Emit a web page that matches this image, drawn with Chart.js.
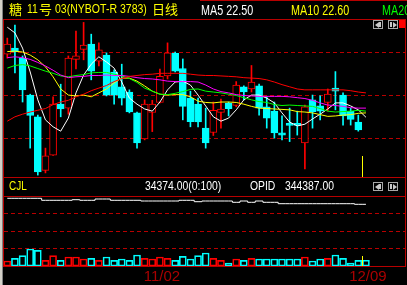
<!DOCTYPE html>
<html>
<head>
<meta charset="utf-8">
<script src="https://cdn.jsdelivr.net/npm/chart.js@4.4.1/dist/chart.umd.min.js"></script>
<style>
  html, body { margin: 0; padding: 0; background: #000; }
  body { width: 407px; height: 285px; position: relative; overflow: hidden; font-family: "Liberation Sans", Arial, sans-serif; }
  canvas { position: absolute; left: 0; }
  .ln { position: absolute; background: #b80000; }
  .txt { position: absolute; white-space: nowrap; line-height: 1; transform-origin: 0 0; }
  .cjk { font-family: "Noto Sans CJK SC", sans-serif; font-size: 13px; color: #ffff00; }
  .btn { position: absolute; width: 10px; height: 9px; border: 1px solid #a8a8a8; box-sizing: border-box; }
  .btn i { position: absolute; top: 1px; width: 0; height: 0; border-top: 3px solid transparent; border-bottom: 3px solid transparent; }
  .btn b { position: absolute; top: 1px; width: 2px; height: 5px; background: #c8c8c8; }
</style>
</head>
<body>
<canvas id="kline" width="407" height="178" style="top:0"></canvas>
<canvas id="vol" width="407" height="89" style="top:196px"></canvas>

<!-- frame -->
<div class="ln" style="left:0;top:0;width:2px;height:285px;background:#d4d0c8"></div>
<div class="ln" style="left:2px;top:0;width:1px;height:285px;background:#808080"></div>
<div class="ln" style="left:200px;top:0;width:207px;height:1px"></div>
<div class="ln" style="left:3px;top:19px;width:403px;height:1px"></div>
<div class="ln" style="left:3px;top:177px;width:403px;height:1px"></div>
<div class="ln" style="left:3px;top:196px;width:403px;height:1px"></div>
<div class="ln" style="left:3px;top:266px;width:403px;height:1px"></div>
<div class="ln" style="left:3px;top:19px;width:1px;height:248px"></div>
<div class="ln" style="left:405px;top:19px;width:1px;height:248px"></div>
<div class="ln" style="left:399px;top:20px;width:6px;height:8px;background:#ff0000"></div>

<!-- cursor -->
<div class="ln" style="left:362px;top:156px;width:1px;height:21px;background:#ffff00"></div>
<div class="ln" style="left:362px;top:256px;width:1px;height:10px;background:#ffff00"></div>

<!-- title -->
<div class="txt cjk" style="left:9px;top:2px">糖</div>
<div class="txt" style="left:27px;top:2px;font-size:13px;color:#ffff00;transform:scaleX(0.8)">11</div>
<div class="txt cjk" style="left:39px;top:2px">号</div>
<div class="txt" style="left:55px;top:2px;font-size:13px;color:#ffff00;transform:scaleX(0.81)">03(NYBOT-R 3783)</div>
<div class="txt cjk" style="left:152px;top:2px">日</div>
<div class="txt cjk" style="left:165px;top:2px">线</div>

<div class="txt" style="left:201px;top:3px;font-size:14px;color:#ffffff;transform:scaleX(0.77)">MA5 22.50</div>
<div class="txt" style="left:291px;top:3px;font-size:14px;color:#ffff00;transform:scaleX(0.77)">MA10 22.60</div>
<div class="txt" style="left:382px;top:3px;font-size:14px;color:#00ff00;transform:scaleX(0.77)">MA20 22.64</div>

<div class="txt" style="left:9px;top:180px;font-size:12.5px;color:#ffff00;transform:scaleX(0.8)">CJL</div>
<div class="txt" style="left:145px;top:180px;font-size:12.5px;color:#ffffff;transform:scaleX(0.83)">34374.00(0:100)</div>
<div class="txt" style="left:250px;top:180px;font-size:12.5px;color:#ffffff;transform:scaleX(0.83)">OPID</div>
<div class="txt" style="left:285px;top:180px;font-size:12.5px;color:#ffffff;transform:scaleX(0.83)">344387.00</div>

<!-- scroll buttons -->
<div class="btn" style="left:373px;top:20px"><i style="left:1px;border-right:4px solid #c8c8c8"></i><b style="left:5px"></b></div>
<div class="btn" style="left:388px;top:20px"><b style="left:1px"></b><i style="left:4px;border-left:4px solid #c8c8c8"></i></div>
<div class="btn" style="left:373px;top:182px"><i style="left:1px;border-right:4px solid #c8c8c8"></i><b style="left:5px"></b></div>
<div class="btn" style="left:388px;top:182px"><b style="left:1px"></b><i style="left:4px;border-left:4px solid #c8c8c8"></i></div>

<script>
const opens = [23.95, 24.09, 23.86, 23.01, 22.51, 21.28, 21.63, 22.80, 22.71, 23.83,
  24.06, 24.18, 23.79, 23.93, 23.54, 23.20, 23.08, 22.60, 22.00, 22.61,
  22.84, 23.45, 23.97, 23.62, 22.94, 22.80, 22.25, 22.15, 22.61, 22.82,
  22.77, 23.20, 23.15, 23.22, 22.74, 22.64, 22.14, 22.36, 22.36, 21.91,
  22.90, 22.76, 22.84, 23.17, 23.01, 22.64, 22.39];
const closes = [24.18, 24.00, 23.13, 22.54, 21.24, 21.61, 22.80, 22.69, 23.86, 23.91,
  24.16, 23.56, 24.05, 23.01, 23.01, 22.94, 22.62, 21.91, 22.80, 22.80,
  23.44, 23.98, 23.56, 22.75, 22.40, 22.39, 21.91, 22.66, 22.69, 22.70,
  23.24, 23.08, 23.31, 22.71, 22.48, 22.14, 22.09, 22.31, 22.31, 22.74,
  22.63, 22.64, 23.03, 23.10, 22.53, 22.45, 22.21];
const highs = [24.32, 24.62, 23.91, 23.03, 22.55, 21.79, 22.97, 23.26, 23.91, 24.48,
  24.68, 24.41, 24.21, 23.98, 23.59, 23.72, 23.13, 22.62, 22.90, 22.89,
  23.61, 24.21, 24.00, 23.84, 23.10, 22.94, 22.71, 22.85, 22.92, 22.85,
  23.32, 23.22, 23.69, 23.26, 22.97, 22.85, 22.53, 22.71, 22.64, 22.78,
  23.01, 22.99, 23.15, 23.55, 23.06, 22.71, 22.55];
const lows = [23.86, 23.52, 22.85, 21.79, 21.17, 21.22, 21.62, 22.51, 22.57, 23.61,
  23.82, 23.36, 23.68, 22.99, 22.80, 22.78, 22.60, 21.79, 21.98, 22.17,
  22.83, 23.38, 23.54, 22.44, 22.28, 22.28, 21.79, 22.08, 22.25, 22.53,
  22.74, 22.90, 23.08, 22.55, 22.25, 22.02, 21.98, 21.94, 22.09, 21.31,
  22.25, 22.44, 22.64, 22.67, 22.32, 22.32, 22.18];

const ma5 = [24.57, 24.44, 24.09, 23.54, 22.90, 22.44, 22.28, 22.18, 22.48, 23.06,
  23.47, 23.72, 23.89, 23.77, 23.63, 23.31, 22.94, 22.80, 22.69, 22.64,
  22.85, 23.13, 23.31, 23.33, 23.24, 23.01, 22.76, 22.51, 22.41, 22.48,
  22.67, 22.90, 23.01, 23.01, 22.94, 22.83, 22.60, 22.39, 22.30, 22.34,
  22.46, 22.57, 22.69, 22.83, 22.83, 22.76, 22.67, 22.50];
const ma10 = [24.01, 24.02, 24.00, 23.93, 23.82, 23.66, 23.43, 23.15, 23.01, 22.99,
  23.01, 22.97, 23.06, 23.15, 23.29, 23.40, 23.40, 23.33, 23.22, 23.10,
  23.03, 23.01, 23.02, 23.02, 22.97, 22.87, 22.84, 22.83, 22.85, 22.85,
  22.84, 22.80, 22.75, 22.71, 22.70, 22.69, 22.68, 22.67, 22.63, 22.62,
  22.60, 22.56, 22.52, 22.53, 22.55, 22.56, 22.59, 22.60];
const ma20 = [23.63, 23.69, 23.71, 23.68, 23.62, 23.56, 23.51, 23.45, 23.43, 23.46,
  23.48, 23.52, 23.53, 23.53, 23.49, 23.45, 23.39, 23.30, 23.17, 23.10,
  23.03, 23.02, 23.05, 23.09, 23.14, 23.15, 23.10, 23.08, 23.06, 23.03,
  23.00, 22.95, 22.90, 22.86, 22.84, 22.79, 22.77, 22.78, 22.77, 22.76,
  22.75, 22.70, 22.64, 22.62, 22.63, 22.64, 22.66, 22.64];
const ma30 = [23.87, 23.89, 23.87, 23.83, 23.76, 23.68, 23.58, 23.47, 23.41, 23.43,
  23.44, 23.46, 23.46, 23.47, 23.46, 23.46, 23.44, 23.41, 23.39, 23.38,
  23.36, 23.33, 23.32, 23.32, 23.32, 23.31, 23.24, 23.15, 23.09, 23.06,
  23.02, 23.00, 22.99, 22.98, 22.98, 22.98, 22.98, 22.97, 22.95, 22.93,
  22.89, 22.83, 22.78, 22.77, 22.75, 22.72, 22.71, 22.71];
const ma60 = [22.41, 22.51, 22.57, 22.62, 22.66, 22.70, 22.79, 22.85, 22.89, 22.97,
  23.03, 23.11, 23.17, 23.23, 23.32, 23.39, 23.44, 23.46, 23.48, 23.49,
  23.51, 23.51, 23.51, 23.51, 23.49, 23.47, 23.46, 23.46, 23.45, 23.44,
  23.43, 23.41, 23.40, 23.39, 23.36, 23.31, 23.25, 23.20, 23.15, 23.13,
  23.13, 23.13, 23.13, 23.13, 23.13, 23.11, 23.08, 23.06];

const volumes = [30000, 46200, 61800, 102000, 94200, 34200, 61800, 34200, 54000, 54000,
  42000, 46200, 34200, 54000, 34200, 42000, 34200, 66000, 46200, 42000,
  54000, 46200, 34200, 58200, 42000, 61800, 78000, 46200, 34200, 18000,
  42000, 34200, 46200, 42000, 42000, 42000, 42000, 42000, 42000, 54000,
  30000, 42000, 46200, 66000, 46200, 18000, 34200, 34374];
const openInterest = [359450, 359450, 359450, 359450, 359450, 354450, 354450, 354450, 354450, 355950,
  354450, 354450, 357700, 357700, 354450, 354450, 354450, 354450, 352700, 352700,
  352700, 352700, 352700, 354450, 354450, 350950, 352700, 352700, 352700, 352700,
  349450, 352700, 349450, 352700, 349450, 349450, 345950, 345950, 345950, 345950,
  345950, 345950, 345950, 345950, 345950, 345950, 344450, 344387];

const dateTicks = [20, 47];
const dateLabels = ['11/02', '12/09'];
const priceGrid = [22, 23, 24];
const volGrid = [105000, 210000, 315000];

const UP = '#ff0000', DOWN = '#00ffff', GRID = '#b80000';
const candleColor = opens.map((o, i) => closes[i] >= o ? UP : DOWN);
const volColor = volumes.map((v, i) => i < opens.length ? candleColor[i] : DOWN);
const xMin = -0.4325, xMax = 52.12;

function pts(arr) {
  return arr.map((v, i) => ({x: i, y: v}));
}
function maLine(arr, color) {
  return {type: 'line', data: pts(arr), borderColor: color, borderWidth: 1, pointRadius: 0, tension: 0, order: 1};
}

Chart.defaults.font.family = 'Liberation Sans';

new Chart(document.getElementById('kline'), {
  type: 'bar',
  data: {
    datasets: [
      maLine(ma60, '#ff0000'),
      maLine(ma30, '#ff00ff'),
      maLine(ma20, '#00ff00'),
      maLine(ma10, '#ffff00'),
      maLine(ma5, '#ffffff'),
      {
        data: opens.map((o, i) => ({x: i, y: [o, closes[i]]})),
        backgroundColor: candleColor.map(c => c === UP ? '#000000' : DOWN),
        borderColor: candleColor,
        borderWidth: 1,
        borderSkipped: false,
        barThickness: 7,
        grouped: false,
        order: 2
      },
      {
        data: lows.map((l, i) => ({x: i, y: [l, highs[i]]})),
        backgroundColor: candleColor,
        borderWidth: 0,
        barThickness: 1,
        grouped: false,
        order: 3
      }
    ]
  },
  options: {
    responsive: false,
    animation: false,
    events: [],
    layout: {padding: {left: 4, right: 2, top: 19, bottom: 1}},
    plugins: {legend: {display: false}, tooltip: {enabled: false}},
    scales: {
      x: {type: 'linear', min: xMin, max: xMax, offset: false, display: false},
      y: {
        type: 'linear', min: 21.126, max: 24.759, beginAtZero: false,
        afterFit: s => { s.width = 0; },
        afterBuildTicks: s => { s.ticks = priceGrid.map(v => ({value: v})); },
        ticks: {display: false},
        grid: {color: GRID, drawTicks: false},
        border: {display: false, dash: [4, 3]}
      }
    }
  }
});

new Chart(document.getElementById('vol'), {
  type: 'bar',
  data: {
    datasets: [
      {type: 'line', yAxisID: 'oi', data: pts(openInterest), borderColor: '#ffffff', borderWidth: 1, pointRadius: 0, stepped: 'middle', order: 1},
      {
        yAxisID: 'v',
        data: pts(volumes),
        backgroundColor: 'rgba(0,0,0,0)',
        borderColor: volColor,
        borderWidth: 1,
        borderSkipped: false,
        barThickness: 7,
        order: 2
      }
    ]
  },
  options: {
    responsive: false,
    animation: false,
    events: [],
    layout: {padding: {left: 4, right: 2, top: 0, bottom: 0}},
    plugins: {legend: {display: false}, tooltip: {enabled: false}},
    scales: {
      x: {
        type: 'linear', min: xMin, max: xMax, offset: false,
        afterFit: s => { s.height = 19; },
        afterBuildTicks: s => { s.ticks = dateTicks.map(v => ({value: v})); },
        ticks: {
          autoSkip: false, maxRotation: 0, padding: 2, labelOffset: 2,
          color: '#aa0000', font: {size: 15},
          callback: v => dateLabels[dateTicks.indexOf(v)]
        },
        grid: {display: false, drawTicks: false},
        border: {display: false}
      },
      v: {
        type: 'linear', position: 'left', min: 0, max: 420000,
        afterFit: s => { s.width = 0; },
        afterBuildTicks: s => { s.ticks = volGrid.map(v => ({value: v})); },
        ticks: {display: false},
        grid: {color: GRID, drawTicks: false},
        border: {display: false, dash: [4, 3]}
      },
      oi: {
        type: 'linear', position: 'left', min: 190200, max: 365200,
        afterFit: s => { s.width = 0; },
        ticks: {display: false},
        grid: {display: false, drawTicks: false},
        border: {display: false}
      }
    }
  }
});
</script>
</body>
</html>
